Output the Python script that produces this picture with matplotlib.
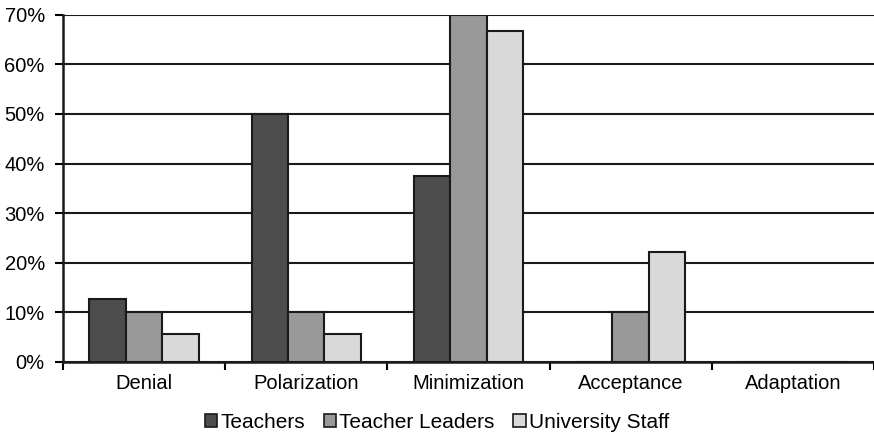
import matplotlib.pyplot as plt
import numpy as np
from matplotlib.patches import Patch
from matplotlib.ticker import PercentFormatter

plt.rcParams['font.family'] = ['Liberation Sans', 'DejaVu Sans']

stages = ["Denial", "Polarization", "Minimization", "Acceptance", "Adaptation"]
teachers = [12.7, 50.0, 37.5, 0.0, 0.0]
teacher_leaders = [10.0, 10.0, 70.0, 10.0, 0.0]
university_staff = [5.6, 5.6, 66.7, 22.2, 0.0]

series = [
    ("Teachers", teachers, "#4d4d4d"),
    ("Teacher Leaders", teacher_leaders, "#999999"),
    ("University Staff", university_staff, "#d9d9d9"),
]

fig = plt.figure(figsize=(8.74, 4.36), dpi=100)
ax = fig.add_axes([0.072, 0.170, 0.928, 0.796])

x = np.arange(len(stages))
width = 0.225
for i, (name, vals, col) in enumerate(series):
    ax.bar(x + (i - 1) * width, vals, width, color=col, edgecolor="#1a1a1a",
           linewidth=1.5, zorder=3, label=name)

ax.set_xlim(-0.5, len(stages) - 0.5)
ax.set_ylim(0, 70)
ax.set_yticks(range(0, 71, 10))
ax.yaxis.set_major_formatter(PercentFormatter(decimals=0))
ax.grid(axis="y", color="#1a1a1a", linewidth=1.5, zorder=0)

# boundary ticks between categories, labels centered on the groups
ax.set_xticks(np.arange(len(stages) + 1) - 0.5)
ax.set_xticklabels([])
ax.set_xticks(x, minor=True)
ax.set_xticklabels(stages, minor=True)
ax.tick_params(axis="x", which="major", length=6, width=1.5, direction="out")
ax.tick_params(axis="x", which="minor", length=0, labelsize=14.5, pad=9)
ax.tick_params(axis="y", length=6, width=1.5, labelsize=14.5, pad=7)

for s in ["top", "right"]:
    ax.spines[s].set_visible(False)
for s in ["left", "bottom"]:
    ax.spines[s].set_linewidth(1.8)
    ax.spines[s].set_color("#1a1a1a")
    ax.spines[s].set_zorder(4)

handles = [Patch(facecolor=c, edgecolor="#1a1a1a", linewidth=1.2, label=n)
           for n, _, c in series]
fig.legend(handles=handles, loc="center", bbox_to_anchor=(0.5, 0.031),
           ncol=3, frameon=False, fontsize=15, handlelength=0.6,
           handleheight=0.6, handletextpad=0.15, columnspacing=0.9)

fig.savefig("out.png", dpi=100)
